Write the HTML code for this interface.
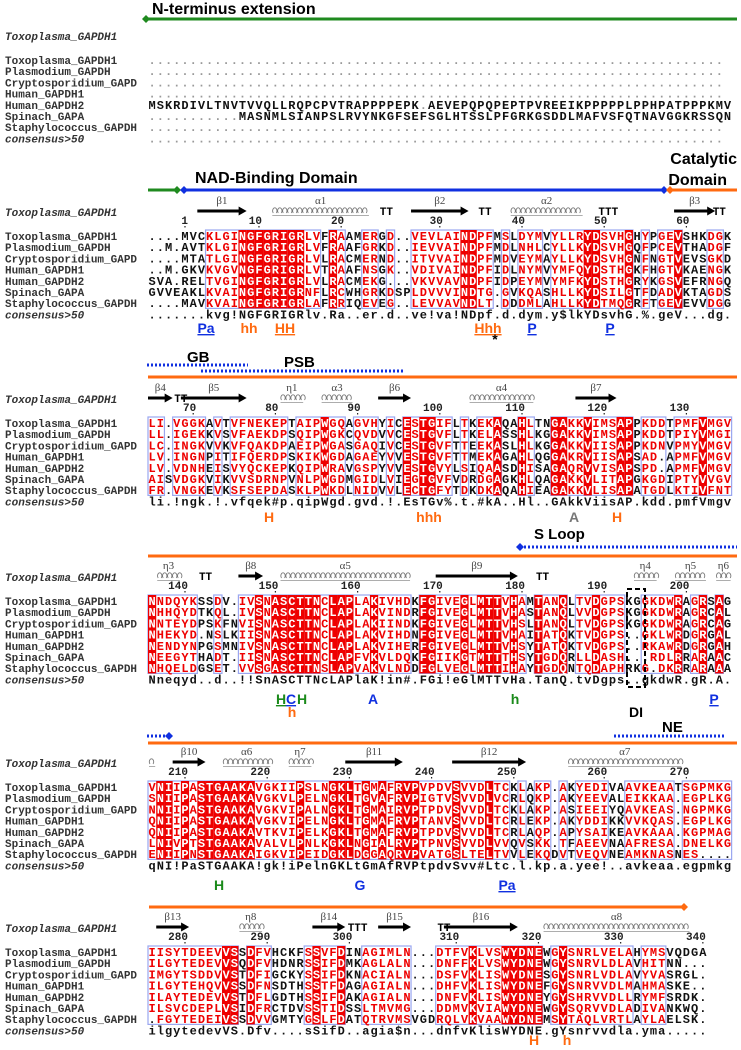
<!DOCTYPE html>
<html><head><meta charset="utf-8">
<style>
html,body{margin:0;padding:0;background:#fff;}
#fig{position:relative;width:741px;height:1050px;overflow:hidden;}
svg{position:absolute;left:0;top:0;}
</style></head>
<body>
<div id="fig">
<svg id="svg" width="741" height="1050" viewBox="0 0 741 1050"></svg>
</div>
<script>
const names = ["Toxoplasma_GAPDH1","Plasmodium_GAPDH","Cryptosporidium_GAPD","Human_GAPDH1","Human_GAPDH2","Spinach_GAPA","Staphylococcus_GAPDH","consensus>50"];
const block0 = [
"......................................................................",
"......................................................................",
"......................................................................",
"......................................................................",
"MSKRDIVLTNVTVVQLLRQPCPVTRAPPPPEPK.AEVEPQPQPEPTPVREEIKPPPPPLPPHPATPPPKMV",
"...........MASNMLSIANPSLRVYNKGFSEFSGLHTSSLPFGRKGSDDLMAFVSFQTNAVGGKRSSQN",
"......................................................................",
"......................................................................"];
const block1 = [
"....MVCKLGINGFGRIGRLVFRAAMERGD..VEVLAINDPFMSLDYMVYLLRYDSVHGHYPGEVSHKDGK",
"..M.AVTKLGINGFGRIGRLVFRAAFGRKD..IEVVAINDPFMDLNHLCYLLKYDSVHGQFPCEVTHADGF",
"....MTATLGINGFGRIGRLVLRACMERND..ITVVAINDPFMDVEYMAYLLKYDSVHGNFNGTVEVSGKD",
"..M.GKVKVGVNGFGRIGRLVTRAAFNSGK..VDIVAINDPFIDLNYMVYMFQYDSTHGKFHGTVKAENGK",
"SVA.RELTVGINGFGRIGRLVLRACMEKG...VKVVAVNDPFIDPEYMVYMFKYDSTHGRYKGSVEFRNGQ",
"GVVEAKLKVAINGFGRIGRNFLRCWHGRKDSPLDVVVINDTG.GVKQASHLLKYDSILGTFDADVKTAGDS",
"....MAVKVAINGFGRIGRLAFRRIQEVEG..LEVVAVNDLT.DDDMLAHLLKYDTMQGRFTGEVEVVDGG",
".......kvg!NGFGRIGRlv.Ra..er.d..ve!va!NDpf.d.dym.y$lkYDsvhG.%.geV...dg."];
const block2 = [
"LI.VGGKAVTVFNEKEPTAIPWGQAGVHYICESTGIFLTKEKAQAHLTNGAKKVIMSAPPKDDTPMFVMGV",
"LL.IGEKKVSVFAEKDPSQIPWGKCQVDVVCESTGVFLTKELASSHLKGGAKKVIMSAPPKDDTPIYVMGI",
"LC.INGKVVKVFQAKDPAEIPWGASGAQIVCESTGVFTTEEKASLHLKGGAKKVIISAPPKDNVPMYVMGV",
"LV.INGNPITIFQERDPSKIKWGDAGAEYVVESTGVFTTMEKAGAHLQGGAKRVIISAPSAD.APMFVMGV",
"LV.VDNHEISVYQCKEPKQIPWRAVGSPYVVESTGVYLSIQAASDHISAGAQRVVISAPSPD.APMFVMGV",
"AISVDGKVIKVVSDRNPVNLPWGDMGIDLVIEGTGVFVDRDGAGKHLQAGAKKVLITAPGKGDIPTYVVGV",
"FR.VNGKEVKSFSEPDASKLPWKDLNIDVVLECTGFYTDKDKAQAHIEAGAKKVLISAPATGDLKTIVFNT",
"li.!ngk.!.vfqek#p.qipWgd.gvd.!.EsTGv%.t.#kA..Hl..GAkkViisAP.kdd.pmfVmgv"];
const block3 = [
"NNDQYKSSDV.IVSNASCTTNCLAPLAKIVHDKFGIVEGLMTTVHAMTANQLTVDGPSKGGKDWRAGRSAG",
"NHHQYDTKQL.IVSNASCTTNCLAPLAKVINDRFGIVEGLMTTVHASTANQLVVDGPSKGGKDWRAGRCAL",
"NNTEYDPSKFNVISNASCTTNCLAPLAKIINDKFGIVEGLMTTVHSLTANQLTVDGPSKGGKDWRAGRCAG",
"NHEKYD.NSLKIISNASCTTNCLAPLAKVIHDNFGIVEGLMTTVHAITATQKTVDGPS..GKLWRDGRGAL",
"NENDYNPGSMNIVSNASCTTNCLAPLAKVIHERFGIVEGLMTTVHSYTATQKTVDGPS..RKAWRDGRGAH",
"NEEGYTHADT.IISNASCTTNCLAPFVKVLDQKFGIIKGTMTTTHSYTGDQRLLDASH...RDLRRARAAC",
"NHQELDGSET.VVSGASCTTNSLAPVAKVLNDDFGLVEGLMTTIHAYTGDQNTQDAPHRKG.DKRRARAAA",
"Nneqyd..d..!!SnASCTTNcLAPlaK!in#.FGi!eGlMTTvHa.TanQ.tvDgps..gkdwR.gR.A."];
const block4 = [
"VNIIPASTGAAKAVGKIIPSLNGKLTGMAFRVPVPDVSVVDLTCKLAKP.AKYEDIVAAVKEAATSGPMKG",
"SNIIPASTGAAKAVGKVLPELNGKLTGVAFRVPIGTVSVVDLVCRLQKP.AKYEEVALEIKKAA.EGPLKG",
"NNIIPASTGAAKAVGKVIPALNGKLTGMAIRVPTPDVSVVDLTCKLAKP.ASIEEIYQAVKEAS.NGPMKG",
"QNIIPASTGAAKAVGKVIPELNGKLTGMAFRVPTANVSVVDLTCRLEKP.AKYDDIKKVVKQAS.EGPLKG",
"QNIIPASTGAAKAVTKVIPELKGKLTGMAFRVPTPDVSVVDLTCRLAQP.APYSAIKEAVKAAA.KGPMAG",
"LNIVPTSTGAAKAVALVLPNLKGKLNGIALRVPTPNVSVVDLVVQVSKK.TFAEEVNAAFRESA.DNELKG",
"ENIIPNSTGAAKAIGKVIPEIDGKLDGGAQRVPVATGSLTELTVVLEKQDVTVEQVNEAMKNASNES....",
"qNI!PaSTGAAKA!gk!iPelnGKLtGmAfRVPtpdvSvv#Ltc.l.kp.a.yee!..avkeaa.egpmkg"];
const block5 = [
"IISYTDEEVVSSDFVHCKFSSVFDINAGIMLN...DTFVKLVSWYDNEWGYSNRLVELAHYMSVQDGA",
"ILGYTEDEVVSQDFVHDNRSSIFDMKAGLALN...DNFFKLVSWYDNEWGYSNRVLDLAVHITNN...",
"IMGYTSDDVVSTDFIGCKYSSIFDKNACIALN...DSFVKLISWYDNESGYSNRLVDLAVYVASRGL.",
"ILGYTEHQVVSSDFNSDTHSSTFDAGAGIALN...DHFVKLISWYDNEFGYSNRVVDLMAHMASKE..",
"ILAYTEDEVVSTDFLGDTHSSIFDAKAGIALN...DNFVKLISWYDNEYGYSHRVVDLLRYMFSRDK.",
"ILSVCDEPLVSIDFRCTDVSSTIDSSLTMVMG...DDMVKVIAWYDNEWGYSQRVVDLADIVANKWQ.",
".FGYTEDEIVSSDVVGMTYGSLFDATQTRVMSVGDRQLVKVAAWYDNEMSYTAQLVRTLAYLAELSK.",
"ilgytedevVS.Dfv....sSifD..agia$n...dnfvKlisWYDNE.gYsnrvvdla.yma....."];
const blockStartRes = [0,1,66,136,206,276];
// secondary structure: [type, startCol, endCol, label]  (columns 1-based)
const ss1 = [["b",7,12,"β1"],["a",16,27,"α1"],["t",29,30,"TT"],["b",33,39,"β2"],["t",41,42,"TT"],["a",45,53,"α2"],["t",55,58,"TTT"],["b",65,69,"β3"],["t",69,71,"TT"]];
const ss2 = [["b",1,3,"β4"],["t",4,5,"TT"],["b",5,12,"β5"],["a",17,19,"η1"],["a",22,25,"α3"],["b",29,32,"β6"],["a",40,47,"α4"],["b",53,57,"β7"]];
const ss3 = [["a",2,4,"η3"],["t",7,8,"TT"],["b",12,14,"β8"],["a",17,32,"α5"],["b",36,45,"β9"],["t",48,49,"TT"],["a",60,62,"η4"],["a",65,68,"η5"],["a",70,71,"η6"]];
const ss4 = [["a",1,1,""],["b",4,7,"β10"],["a",10,15,"α6"],["a",18,20,"η7"],["b",25,31,"β11"],["b",38,46,"β12"],["a",52,65,"α7"]];
const ss5 = [["b",2,5,"β13"],["a",12,14,"η8"],["b",21,24,"β14"],["t",25,27,"TTT"],["b",29,32,"β15"],["t",36,37,"TT"],["b",37,45,"β16"],["a",49,66,"α8"]];
</script>
<script>
const S = document.getElementById('svg');
const NS = 'http://www.w3.org/2000/svg';
const X0 = 148, P = 8.22, RH = 11.2;
function cx(c){ return X0 + (c + 0.5) * P; } // c zero-based
function mk(tag, attrs, txt){
  const e = document.createElementNS(NS, tag);
  for (const k in attrs) e.setAttribute(k, attrs[k]);
  if (txt !== undefined) e.textContent = txt;
  S.appendChild(e);
  return e;
}
const RED = '#ee0000';
const blocks = [block0, block1, block2, block3, block4, block5];
const rowTops = [60, 236, 423, 601, 787, 952];
const ssList = [null, ss1, ss2, ss3, ss4, ss5];

blocks.forEach((blk, bi) => {
  const y0 = rowTops[bi];
  const n = blk[0].length;
  const cons = blk[7];
  // italic structure label
  const lab = mk('text', {x: 5, y: y0 - 24 + 4, 'font-family': 'Liberation Mono, monospace', 'font-size': 11, 'font-style': 'italic', 'font-weight': 'bold', fill: '#333'}, 'Toxoplasma_GAPDH1');
  
  
  if (bi > 0) {
    // blue boxes around similar runs
    let c = 0;
    while (c < n) {
      if (cons[c] !== '.' && cons[c] !== undefined) {
        let e = c;
        while (e + 1 < n && cons[e + 1] !== '.') e++;
        const r = mk('rect', {x: X0 + c * P, y: y0 - 6, width: (e - c + 1) * P, height: RH * 7, fill: 'none', stroke: '#9aa6f0', 'stroke-width': 1.2});
        
        
        c = e + 1;
      } else c++;
    }
    // identical columns
    for (let c2 = 0; c2 < n; c2++) {
      const col = blk.slice(0, 7).map(s => s[c2]);
      if (col[0] !== '.' && col.every(ch => ch === col[0])) {
        const r = mk('rect', {x: X0 + c2 * P, y: y0 - 6, width: P, height: RH * 7, fill: RED});
        
        
      }
    }
    // numbers
    let res = blockStartRes[bi] - 1;
    for (let c2 = 0; c2 < n; c2++) {
      if (blk[0][c2] === '.') continue;
      res++;
      if (res % 10 === 0 || res === 1) {
        const t = mk('text', {x: cx(c2) + 3, y: y0 - 12, 'text-anchor': 'end', 'font-family': 'Liberation Mono, monospace', 'font-size': 11, 'font-weight': 'bold', fill: '#222'}, String(res));
        
        
        const d = mk('rect', {x: cx(c2) - 0.6, y: y0 - 10, width: 1.2, height: 1.5, fill: '#222'});
        
        
      }
    }
    // secondary structure
    ssList[bi].forEach(s => {
      const xa = X0 + (s[1] - 1) * P, xb = X0 + s[2] * P, ya = y0 - 25;
      if (s[0] === 'b') {
        const l = mk('rect', {x: xa, y: ya - 1.5, width: Math.max(1, xb - xa - 7), height: 3, fill: '#000'});
        
        
        const h = mk('polygon', {points: `${xb - 8},${ya - 4.5} ${xb},${ya} ${xb - 8},${ya + 4.5}`, fill: '#000'});
        
        
      } else if (s[0] === 'a') {
        let d = '';
        for (let x = xa + 2; x < xb - 2; x += 5) d += `M${x},${ya + 2} a2.2,3 0 1 1 3,0 `;
        const p = mk('path', {d: d, fill: 'none', stroke: '#777', 'stroke-width': 0.9});
        
        
        const u = mk('rect', {x: xa + 1, y: ya + 4, width: xb - xa - 2, height: 0.8, fill: '#999'});
        
        
      } else {
        const t = mk('text', {x: (xa + xb) / 2, y: ya + 4, 'text-anchor': 'middle', 'font-family': 'Liberation Mono, monospace', 'font-size': 11, 'font-weight': 'bold', fill: '#000'}, s[3]);
        
        
      }
      if (s[0] !== 't' && s[3]) {
        const t = mk('text', {x: (xa + xb) / 2, y: ya - 7, 'text-anchor': 'middle', 'font-family': 'Liberation Serif, serif', 'font-size': 11, fill: '#444'}, s[3]);
        
        
      }
    });
  }
  // rows
  for (let r = 0; r < 8; r++) {
    const y = y0 + r * RH;
    const nm = mk('text', {x: 5, y: y + 4, 'font-family': 'Liberation Mono, monospace', 'font-size': 11, 'font-weight': 'bold', 'font-style': r === 7 ? 'italic' : 'normal', fill: '#333'}, names[r]);
    
    
    const s = blk[r];
    for (let c2 = 0; c2 < s.length; c2++) {
      const ch = s[c2];
      let fill = '#111';
      if (ch === '.') fill = bi === 0 ? '#999' : '#111';
      else if (bi > 0 && r < 7) {
        const col = blk.slice(0, 7).map(q => q[c2]);
        if (col.every(q => q === col[0])) fill = '#fff';
        else if (cons[c2] !== '.') fill = RED;
      }
      const t = mk('text', {x: cx(c2), y: y + 4, 'text-anchor': 'middle', 'font-family': 'Liberation Mono, monospace', 'font-size': 12, 'font-weight': 'bold', fill: fill}, ch);
      
      
    }
  }
});

// domain lines and titles
function line(x1, x2, y, col, w, dash, name){
  const l = mk('line', {x1: x1, x2: x2, y1: y, y2: y, stroke: col, 'stroke-width': w, 'stroke-dasharray': dash || 'none'});
  
  
}
function diamond(x, y, col, name){
  const d = mk('polygon', {points: `${x - 4},${y} ${x},${y - 4} ${x + 4},${y} ${x},${y + 4}`, fill: col});
  
  
}
function title(x, y, txt, name, size, col, anchor){
  const t = mk('text', {x: x, y: y, 'font-family': 'Liberation Sans, sans-serif', 'font-size': size || 16, 'font-weight': 'bold', fill: col || '#000', 'text-anchor': anchor || 'start'}, txt);
  
  
}
const GREEN = '#1f8a1f', BLUE = '#1030e0', ORANGE = '#ff6a10';
title(152, 14, 'N-terminus extension', 'n-terminus-title');
line(146, 737, 19, GREEN, 3, null, 'n-terminus-line'); diamond(146, 19, GREEN, 'n-terminus-start');
title(195, 183, 'NAD-Binding Domain', 'nad-binding-title');
title(737, 164, 'Catalytic', 'catalytic-title', 16, '#000', 'end');
title(727, 185, 'Domain', 'catalytic-title-2', 16, '#000', 'end');
line(148, 177, 190, GREEN, 3, null, 'n-terminus-line-2'); diamond(177, 190, GREEN, 'green-end');
line(183, 664, 190, BLUE, 3, null, 'nad-binding-line'); diamond(184, 190, BLUE, 'nad-start'); diamond(664, 190, BLUE, 'nad-end');
line(670, 737, 190, ORANGE, 3, null, 'catalytic-line'); diamond(670, 190, ORANGE, 'catalytic-start');
title(187, 362, 'GB', 'gb-title', 15);
line(147, 248, 365, BLUE, 3, '2,2', 'gb-line');
title(284, 367, 'PSB', 'psb-title', 15);
line(201, 405, 371, BLUE, 3, '2,2', 'psb-line');
line(148, 737, 377, ORANGE, 3, null, 'catalytic-line-2');
title(534, 539, 'S Loop', 'sloop-title', 15);
diamond(520, 547, BLUE, 'sloop-start'); line(524, 737, 547, BLUE, 3, '2,2', 'sloop-line');
line(148, 737, 556, ORANGE, 3, null, 'catalytic-line-3');
line(147, 166, 736, BLUE, 3, '2,2', 'sloop-line-end'); diamond(169, 736, BLUE, 'sloop-end');
title(662, 732, 'NE', 'ne-title', 15);
line(614, 726, 736, BLUE, 3, '2,2', 'ne-line');
line(148, 737, 743, ORANGE, 3, null, 'catalytic-line-4');
line(149, 682, 907, ORANGE, 3, null, 'catalytic-line-5'); diamond(684, 907, ORANGE, 'catalytic-end');

// functional site annotations
const ann = [
 [206,333,'Pa',BLUE,true],[249,333,'hh',ORANGE,false],[285,333,'HH',ORANGE,true],[488,333,'Hhh',ORANGE,true],[495,344,'*','#000',false],[532,333,'P',BLUE,true],[610,333,'P',BLUE,true],
 [269,522,'H',ORANGE,false],[429,522,'hhh',ORANGE,false],[574,522,'A','#777',false],[617,522,'H',ORANGE,false],
 [281,704,'H','#1a8a1a',true],[291,704,'C',BLUE,true],[302,704,'H','#1a8a1a',false],[292,717,'h',ORANGE,false],[373,704,'A',BLUE,false],[515,704,'h','#1a8a1a',false],[636,717,'DI','#000',false],[714,704,'P',BLUE,true],
 [219,890,'H','#1a8a1a',false],[360,890,'G',BLUE,false],[507,890,'Pa',BLUE,true],
 [534,1045,'H',ORANGE,false],[567,1045,'h',ORANGE,false]];
ann.forEach(a => {
  const t = mk('text', {x: a[0], y: a[1], 'text-anchor': 'middle', 'font-family': 'Liberation Sans, sans-serif', 'font-size': 14, 'font-weight': 'bold', fill: a[3], 'text-decoration': a[4] ? 'underline' : 'none'}, a[2]);
  
  
});
const box = mk('rect', {x: 627, y: 589, width: 18, height: 98, fill: 'none', stroke: '#000', 'stroke-width': 2, 'stroke-dasharray': '5,3'});


</script>
</body></html>
